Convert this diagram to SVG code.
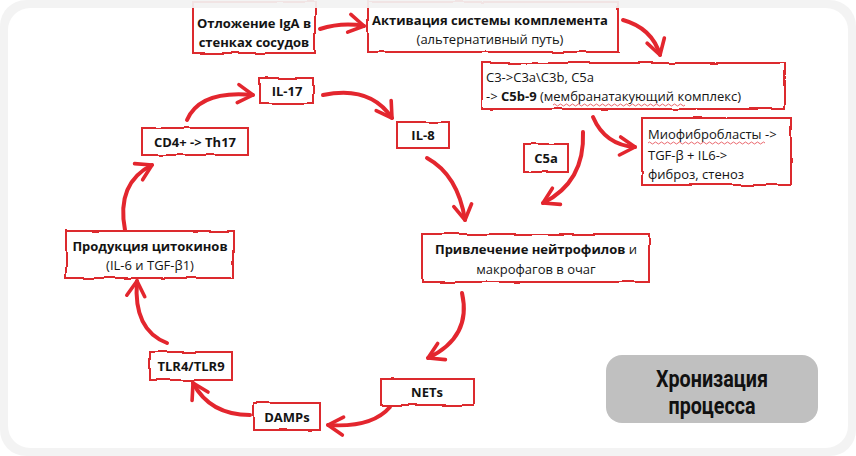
<svg xmlns="http://www.w3.org/2000/svg" width="856" height="456" viewBox="0 0 856 456">
<defs>
<style>
.box{fill:#fff;stroke:#dc2a2f;stroke-width:2;filter:url(#rough)}
.t{font-family:"Open Sans","Noto Sans",sans-serif;font-size:13px;fill:#141414}
.b{font-weight:700}
.c{text-anchor:middle}
.arr{fill:none;stroke:#e3262e;stroke-width:4;stroke-linecap:round;marker-end:url(#head)}
.sq{fill:none;stroke:#e5424a;stroke-width:0.8}
</style>
<filter id="rough" x="-5%" y="-15%" width="110%" height="130%">
<feTurbulence type="fractalNoise" baseFrequency="0.04" numOctaves="2" seed="3"/>
<feDisplacementMap in="SourceGraphic" scale="3" xChannelSelector="R" yChannelSelector="G"/>
</filter>
<marker id="head" markerUnits="userSpaceOnUse" viewBox="-18 -12 22 24" refX="0" refY="0" markerWidth="22" markerHeight="24" orient="auto">
<path d="M-15,-9 L0,0 L-15,9" fill="none" stroke="#e3262e" stroke-width="3.6" stroke-linecap="round" stroke-linejoin="round"/>
</marker>
</defs>
<rect width="856" height="456" fill="#fff"/>

<g id="connectors">
<path class="arr" d="M320,29 Q342,22 364,26"/>
<path class="arr" d="M623,20 Q652,28 660,55"/>
<path class="arr" d="M593,117 Q605,145 635,147"/>
<path class="arr" d="M583,132 Q585,182 543,203"/>
<path class="arr" d="M427,158 Q458,175 465,220"/>
<path class="arr" d="M323,95 Q370,85 392,118"/>
<path class="arr" d="M187,120 Q200,90 253,95"/>
<path class="arr" d="M125,230 Q116,183 152,165"/>
<path class="arr" d="M167,343 Q133,330 137,281"/>
<path class="arr" d="M250,415 Q210,415 193,383"/>
<path class="arr" d="M390,407 Q372,428 328,425"/>
<path class="arr" d="M462,293 Q472,337 428,358"/>
</g>

<g id="otlozhenie">
<rect class="box" x="193" y="2" width="122" height="51"/>
<text class="t b c" x="254" y="28">Отложение IgA в</text>
<text class="t b c" x="254" y="47">стенках сосудов</text>
</g>
<g id="aktivatsiya">
<rect class="box" x="368" y="2" width="250" height="50"/>
<text class="t b c" x="490" y="25">Активация системы комплемента</text>
<text class="t c" x="490" y="44">(альтернативный путь)</text>
</g>
<g id="c3">
<rect class="box" x="482" y="63" width="302" height="46"/>
<text class="t" x="486" y="82" font-size="13.4">C3-&gt;C3a\C3b, C5a</text>
<text class="t" x="486" y="101" font-size="13.4">-&gt; <tspan class="b">C5b-9</tspan> (мембранатакующий комплекс)</text>
<path class="sq" d="M553,105 q1.5,-2 3,0 t3,0 t3,0 t3,0 t3,0 t3,0 t3,0 t3,0 t3,0 t3,0 t3,0 t3,0 t3,0 t3,0 t3,0 t3,0 t3,0 t3,0 t3,0 t3,0 t3,0 t3,0 t3,0 t3,0 t3,0 t3,0 t3,0 t3,0 t3,0 t3,0 t3,0 t3,0 t3,0 t3,0 t3,0 t3,0 t3,0 t3,0 t3,0 t3,0 t3,0 t3,0 t3,0 t3,0"/>
</g>
<g id="miofibroblasty">
<rect class="box" x="642" y="118" width="149" height="67"/>
<text class="t" x="648" y="139">Миофибробласты -&gt;</text>
<text class="t" x="648" y="160">TGF-β + IL6-&gt;</text>
<text class="t" x="648" y="179">фиброз, стеноз</text>
<path class="sq" d="M648,143 q1.5,-2 3,0 t3,0 t3,0 t3,0 t3,0 t3,0 t3,0 t3,0 t3,0 t3,0 t3,0 t3,0 t3,0 t3,0 t3,0 t3,0 t3,0 t3,0 t3,0 t3,0 t3,0 t3,0 t3,0 t3,0 t3,0 t3,0 t3,0 t3,0 t3,0 t3,0 t3,0 t3,0 t3,0 t3,0 t3,0 t3,0 t3,0 t3,0 t3,0"/>
</g>
<g id="c5a">
<rect class="box" x="524" y="144" width="44" height="28"/>
<text class="t b c" x="546" y="163">C5a</text>
</g>
<g id="il17">
<rect class="box" x="260" y="78" width="53" height="26"/>
<text class="t b c" x="287" y="96">IL-17</text>
</g>
<g id="il8">
<rect class="box" x="397" y="122" width="52" height="26"/>
<text class="t b c" x="423" y="140">IL-8</text>
</g>
<g id="cd4">
<rect class="box" x="142" y="128" width="106" height="27"/>
<text class="t b c" x="195" y="147">CD4+ -&gt; Th17</text>
</g>
<g id="produktsiya">
<rect class="box" x="66" y="231" width="167" height="47"/>
<text class="t b c" x="150" y="251">Продукция цитокинов</text>
<text class="t c" x="150" y="270">(IL-6 и TGF-β1)</text>
</g>
<g id="tlr">
<rect class="box" x="150" y="352" width="82" height="28"/>
<text class="t b c" x="191" y="371">TLR4/TLR9</text>
</g>
<g id="damps">
<rect class="box" x="254" y="403" width="66" height="27"/>
<text class="t b c" x="287" y="422">DAMPs</text>
</g>
<g id="nets">
<rect class="box" x="381" y="379" width="93" height="26"/>
<text class="t b c" x="427" y="397">NETs</text>
</g>
<g id="privlechenie">
<rect class="box" x="422" y="234" width="227" height="48"/>
<text class="t c" x="536" y="254"><tspan class="b">Привлечение нейтрофилов</tspan> и</text>
<text class="t c" x="536" y="274">макрофагов в очаг</text>
</g>
<g id="khronizatsiya">
<rect x="606" y="355" width="212" height="68" rx="16" fill="#c0c0c0"/>
<text x="712" y="387" text-anchor="middle" font-family="Roboto, sans-serif" font-weight="700" font-size="24" fill="#111" textLength="112" lengthAdjust="spacingAndGlyphs">Хронизация</text>
<text x="712" y="414" text-anchor="middle" font-family="Roboto, sans-serif" font-weight="700" font-size="24" fill="#111" textLength="87" lengthAdjust="spacingAndGlyphs">процесса</text>
</g>

<path fill="#f2f2f2" fill-opacity="0.93" fill-rule="evenodd" d="M26,0H830A26,26 0 0 1 856,26V430A26,26 0 0 1 830,456H26A26,26 0 0 1 0,430V26A26,26 0 0 1 26,0Z M30,8H826A22,22 0 0 1 848,30V426A22,22 0 0 1 826,448H30A22,22 0 0 1 8,426V30A22,22 0 0 1 30,8Z"/>
</svg>
